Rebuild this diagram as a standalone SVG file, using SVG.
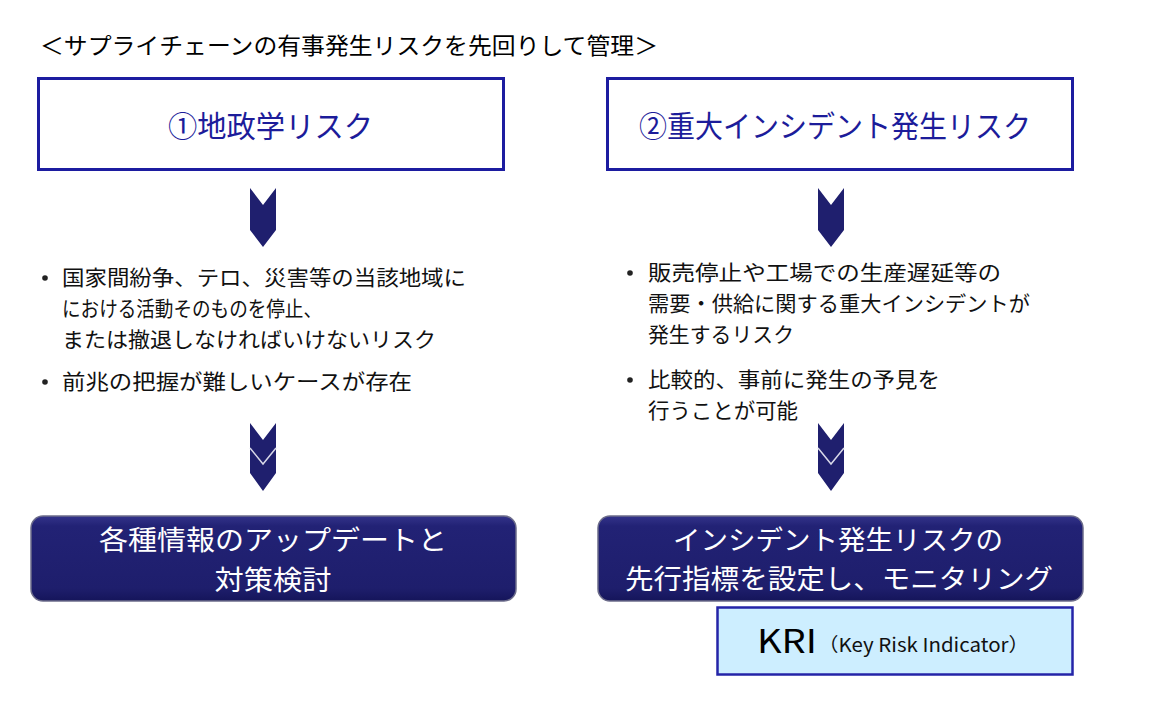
<svg xmlns="http://www.w3.org/2000/svg" width="1150" height="707" viewBox="0 0 1150 707">
<defs>
<linearGradient id="navy" x1="0" y1="0" x2="0" y2="1">
<stop offset="0" stop-color="#33338a"/>
<stop offset="0.12" stop-color="#222275"/>
<stop offset="0.85" stop-color="#1e1e6c"/>
<stop offset="1" stop-color="#15155a"/>
</linearGradient>
<style>
text{font-family:"Noto Sans CJK JP","Noto Sans",sans-serif;}
.ttl{font-size:23px;fill:#000;}
.hdr{fill:#fff;stroke:#1c1ca0;stroke-width:3;}
.hdrt{font-size:30px;fill:#1c1c9a;text-anchor:middle;dominant-baseline:central;}
.chev{fill:#1f1f6e;}
.bl{font-size:21px;fill:#111;}
.dot{fill:#222;}
.act{fill:url(#navy);stroke:#6c6c8a;stroke-width:1.5;}
.actt{font-size:27px;fill:#fff;text-anchor:middle;dominant-baseline:central;}
.kri{fill:#cdeeff;stroke:#2424a8;stroke-width:2.5;}
</style>
</defs>
<rect width="1150" height="707" fill="#fff"/>
<text class="ttl" x="40" y="54" textLength="618" lengthAdjust="spacingAndGlyphs">＜サプライチェーンの有事発生リスクを先回りして管理＞</text>

<g id="node-geo">
<rect class="hdr" x="38.5" y="78.5" width="465" height="91"/>
<text class="hdrt" x="270.5" y="124" textLength="205" lengthAdjust="spacingAndGlyphs">①地政学リスク</text>
</g>
<g id="node-incident">
<rect class="hdr" x="607.5" y="78.5" width="465" height="91"/>
<text class="hdrt" x="835" y="124" textLength="392" lengthAdjust="spacingAndGlyphs">②重大インシデント発生リスク</text>
</g>

<g id="node-geo-desc">
<circle class="dot" cx="45" cy="278" r="2.8"/>
<text class="bl" x="62" y="285" textLength="404" lengthAdjust="spacingAndGlyphs">国家間紛争、テロ、災害等の当該地域に</text>
<text class="bl" x="62" y="316" textLength="260" lengthAdjust="spacingAndGlyphs">における活動そのものを停止、</text>
<text class="bl" x="62" y="347" textLength="374" lengthAdjust="spacingAndGlyphs">または撤退しなければいけないリスク</text>
<circle class="dot" cx="45" cy="382" r="2.8"/>
<text class="bl" x="62" y="389" textLength="350" lengthAdjust="spacingAndGlyphs">前兆の把握が難しいケースが存在</text>
</g>
<g id="node-incident-desc">
<circle class="dot" cx="630" cy="273" r="2.8"/>
<text class="bl" x="648" y="280" textLength="353" lengthAdjust="spacingAndGlyphs">販売停止や工場での生産遅延等の</text>
<text class="bl" x="648" y="311" textLength="382" lengthAdjust="spacingAndGlyphs">需要・供給に関する重大インシデントが</text>
<text class="bl" x="648" y="342" textLength="146" lengthAdjust="spacingAndGlyphs">発生するリスク</text>
<circle class="dot" cx="630" cy="380" r="2.8"/>
<text class="bl" x="648" y="387" textLength="292" lengthAdjust="spacingAndGlyphs">比較的、事前に発生の予見を</text>
<text class="bl" x="648" y="418" textLength="150" lengthAdjust="spacingAndGlyphs">行うことが可能</text>
</g>

<g id="connectors">
<polygon class="chev" points="250,188 263,205 276,188 276,230 263,247 250,230"/>
<polygon class="chev" points="818,188 831,205 844,188 844,230 831,247 818,230"/>
<polygon class="chev" points="250,423 263,440 276,423 276,473 263,491 250,473"/>
<polyline points="250,448 263,464 276,448" fill="none" stroke="#d8d8e8" stroke-width="1.5"/>
<polygon class="chev" points="818,423 831,440 844,423 844,473 831,491 818,473"/>
<polyline points="818,448 831,464 844,448" fill="none" stroke="#d8d8e8" stroke-width="1.5"/>
</g>

<g id="node-update">
<rect class="act" x="31" y="516" width="485" height="85" rx="12"/>
<text class="actt" x="273" y="538" textLength="348" lengthAdjust="spacingAndGlyphs">各種情報のアップデートと</text>
<text class="actt" x="273" y="578" textLength="117" lengthAdjust="spacingAndGlyphs">対策検討</text>
</g>
<g id="node-monitor">
<rect class="act" x="598" y="516" width="485" height="85" rx="12"/>
<text class="actt" x="838" y="538" textLength="330" lengthAdjust="spacingAndGlyphs">インシデント発生リスクの</text>
<text class="actt" x="839" y="577" textLength="428" lengthAdjust="spacingAndGlyphs">先行指標を設定し、モニタリング</text>
</g>
<g id="node-kri">
<rect class="kri" x="717.5" y="607.5" width="355" height="67"/>
<text x="757" y="653" font-size="32" fill="#000" textLength="60" lengthAdjust="spacingAndGlyphs">KRI</text>
<text x="818" y="652" font-size="19" fill="#111" textLength="211" lengthAdjust="spacingAndGlyphs">（Key Risk Indicator）</text>
</g>
</svg>
